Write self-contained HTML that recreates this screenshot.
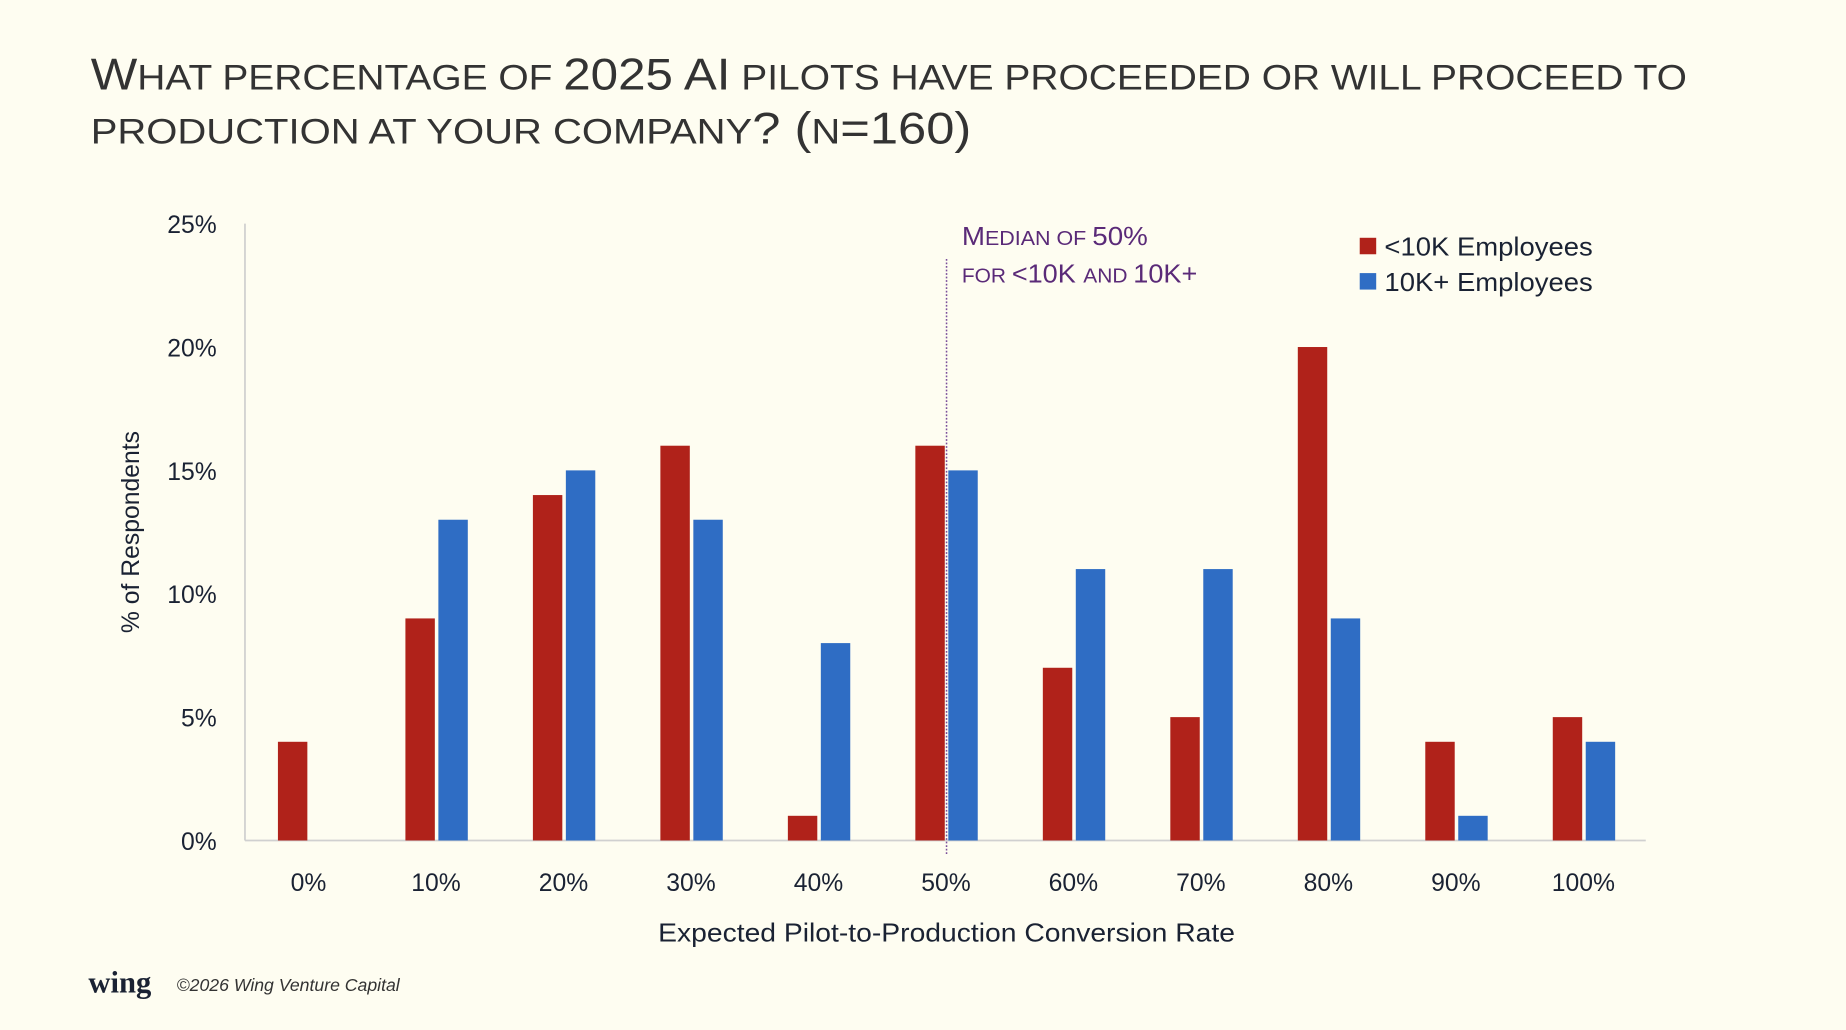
<!DOCTYPE html>
<html><head><meta charset="utf-8"><style>
html,body{margin:0;padding:0;background:#fefdf1;}
svg{display:block;}
text{font-family:"Liberation Sans",sans-serif;}
</style></head><body>
<svg id="chart" width="1846" height="1030" viewBox="0 0 1568 875" xmlns="http://www.w3.org/2000/svg">
<rect x="0" y="0" width="1568" height="875" fill="#fefdf1"/>
<g fill="#333">
<text x="77" y="76" font-size="38" textLength="1356" lengthAdjust="spacingAndGlyphs">W<tspan font-size="30">HAT PERCENTAGE OF </tspan>2025 AI<tspan font-size="30"> PILOTS HAVE PROCEEDED OR WILL PROCEED TO</tspan></text>
<text x="77" y="122" font-size="38" textLength="748" lengthAdjust="spacingAndGlyphs"><tspan font-size="30">PRODUCTION AT YOUR COMPANY</tspan>? (<tspan font-size="30">N</tspan>=160)</text>
</g>
<g id="axes"></g>
<g id="bars"></g>
<line x1="804" y1="220" x2="804" y2="726" stroke="#7a4f9a" stroke-width="1.3" stroke-dasharray="1.5,1.5"/>
<g fill="#5a2a78">
<text x="817" y="208" font-size="22" textLength="158" lengthAdjust="spacingAndGlyphs">M<tspan font-size="17">EDIAN OF </tspan>50%</text>
<text x="817" y="240" font-size="22" textLength="200" lengthAdjust="spacingAndGlyphs"><tspan font-size="17">FOR </tspan>&lt;10K <tspan font-size="17">AND </tspan>10K+</text>
</g>
<g>
<rect x="1155" y="202" width="14" height="14" fill="#b0221a"/>
<text x="1176" y="217" font-size="22" fill="#1a2233" textLength="177" lengthAdjust="spacingAndGlyphs">&lt;10K Employees</text>
<rect x="1155" y="232" width="14" height="14" fill="#2f6dc4"/>
<text x="1176" y="247" font-size="22" fill="#1a2233" textLength="177" lengthAdjust="spacingAndGlyphs">10K+ Employees</text>
</g>
<text transform="translate(118,452) rotate(-90)" text-anchor="middle" font-size="21" fill="#1a2233">% of Respondents</text>
<text x="804" y="800" text-anchor="middle" font-size="22" fill="#1a2233" textLength="490" lengthAdjust="spacingAndGlyphs">Expected Pilot-to-Production Conversion Rate</text>
<text x="75" y="843" font-size="26" font-weight="bold" fill="#1a2233" style="font-family:'Liberation Serif',serif">wing</text>
<text x="150" y="842" font-size="15" font-style="italic" fill="#333">©2026 Wing Venture Capital</text>
</svg>
<script>
const categories = ["0%","10%","20%","30%","40%","50%","60%","70%","80%","90%","100%"];
const smallCo = [4,9,14,16,1,16,7,5,20,4,5];
const largeCo = [0,13,15,13,8,15,11,11,9,1,4];
const yTicks = [0,5,10,15,20,25];
const yTickLabels = ["0%","5%","10%","15%","20%","25%"];

const NS="http://www.w3.org/2000/svg";
const y0=714, yTop=190, yMax=25;
const xStart=263, xStep=(1346-263)/10;
function yScale(v){return y0-(v/yMax)*(y0-yTop);}
function xScale(i){return xStart+i*xStep;}
function mk(tag,attrs,parent){const e=document.createElementNS(NS,tag);for(const k in attrs)e.setAttribute(k,attrs[k]);parent.appendChild(e);return e;}
const axes=document.getElementById('axes'), bars=document.getElementById('bars');
let yl=mk('line',{x1:208,y1:yTop,x2:208,y2:y0,stroke:'#d0d0d0','stroke-width':1.5},axes);


let xl=mk('line',{x1:208,y1:y0,x2:1398,y2:y0,stroke:'#d0d0d0','stroke-width':1.5},axes);


yTicks.forEach((t,i)=>{
  const tx=mk('text',{x:184,y:yScale(t)+8,'text-anchor':'end','font-size':21,fill:'#1a2233'},axes);
  tx.textContent=yTickLabels[i];
  
  
});
categories.forEach((c,i)=>{
  const cx=xScale(i);
  const tx=mk('text',{x:cx-1,y:757,'text-anchor':'middle','font-size':21,fill:'#1a2233'},axes);
  tx.textContent=c;
  
  
  const r=mk('rect',{x:cx-27,y:yScale(smallCo[i]),width:25,height:y0-yScale(smallCo[i]),fill:'#b0221a'},bars);
  
  
  const b=mk('rect',{x:cx+1,y:yScale(largeCo[i]),width:25,height:y0-yScale(largeCo[i]),fill:'#2f6dc4'},bars);
  
  
});
</script>
</body></html>
